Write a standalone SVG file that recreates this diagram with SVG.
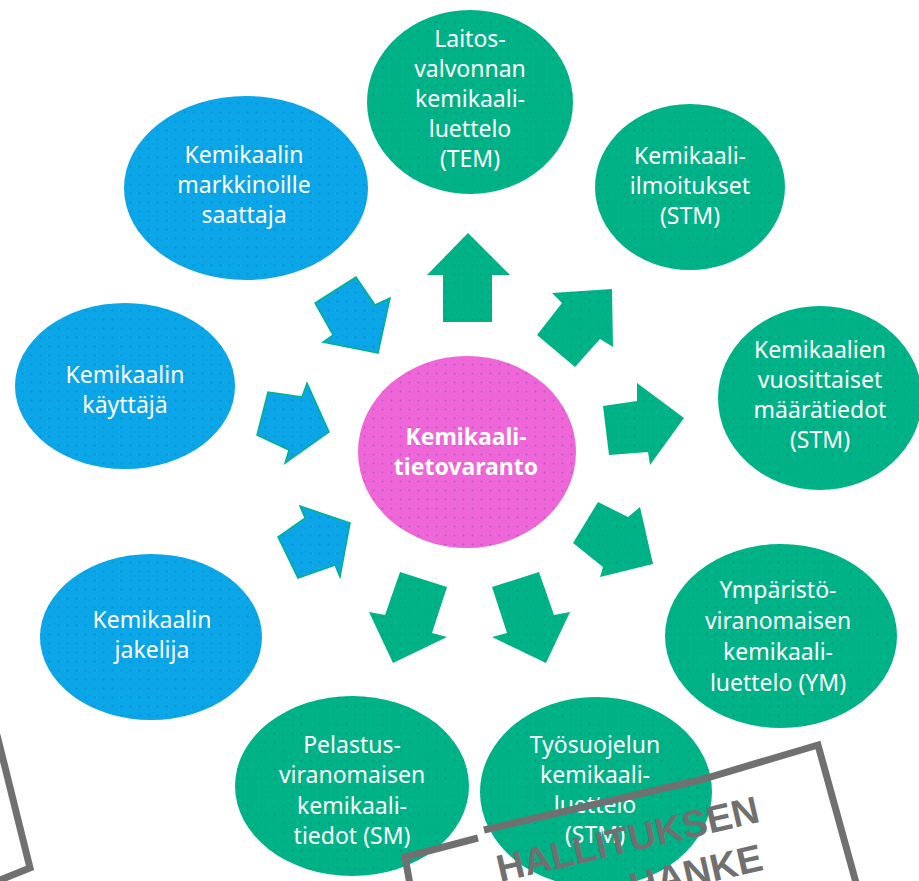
<svg xmlns="http://www.w3.org/2000/svg" width="919" height="881" viewBox="0 0 919 881">
<style>
.g{fill:#00b386}
.b{fill:#0aa6e8}
.p{fill:#ee66d8}
.d{fill:url(#dots)}
.ab{fill:#0aa6e8;stroke:#00b386;stroke-width:1.5;stroke-linejoin:miter}
.ag{fill:#00b386}
.t{font-family:"Noto Sans","Open Sans","DejaVu Sans",sans-serif;font-size:23px;fill:#ffffff;text-anchor:middle}
.tb{font-weight:bold}
.stamp{fill:none;stroke:#707070;stroke-width:7;stroke-linejoin:miter}
.st{font-family:"Liberation Sans","Arial",sans-serif;font-weight:bold;font-size:38px;fill:#707070}
</style>
<defs>
<pattern id="dots" width="9" height="9" patternUnits="userSpaceOnUse">
<circle cx="4.5" cy="4.5" r="1" fill="#1a4f8c" fill-opacity="0.3"/>
</pattern>
</defs>
<rect width="919" height="881" fill="#ffffff"/>

<g id="connectors">
<polygon class="ag" points="468,233 510,275 492,275 492,322 443,322 443,275 427,275"/>
<polygon class="ag" points="612,289 613,347 600,339 575,367 537,335 562,303 552,293"/>
<polygon class="ag" points="684,418 650,465 648,452 609,455 603,406 637,401 637,383"/>
<polygon class="ag" points="653,564 600,577 603,567 573,543 598,502 628,517 640,507"/>
<polygon class="ag" points="546,663 570,612 554,615 539,572 492,587 507,633 492,637"/>
<polygon class="ag" points="393,663 369,612 385,615 400,572 447,587 432,633 447,637"/>
<polygon class="ab" points="378,353 323,342 333,335 315,303 356,277 375,305 390,298"/>
<polygon class="ab" points="329,432 285,463 289,450 257,435 268,392 302,397 307,383"/>
<polygon class="ab" points="350,523 340,577 335,565 298,578 278,537 305,518 300,506"/>
<g class="d">
<polygon points="468,233 510,275 492,275 492,322 443,322 443,275 427,275"/>
<polygon points="612,289 613,347 600,339 575,367 537,335 562,303 552,293"/>
<polygon points="684,418 650,465 648,452 609,455 603,406 637,401 637,383"/>
<polygon points="653,564 600,577 603,567 573,543 598,502 628,517 640,507"/>
<polygon points="546,663 570,612 554,615 539,572 492,587 507,633 492,637"/>
<polygon points="393,663 369,612 385,615 400,572 447,587 432,633 447,637"/>
<polygon points="378,353 323,342 333,335 315,303 356,277 375,305 390,298"/>
<polygon points="329,432 285,463 289,450 257,435 268,392 302,397 307,383"/>
<polygon points="350,523 340,577 335,565 298,578 278,537 305,518 300,506"/>
</g>
</g>

<g id="center">
<ellipse class="p" cx="467" cy="452" rx="109" ry="96"/>
<ellipse class="d" cx="467" cy="452" rx="109" ry="96"/>
<text class="t tb" x="466" y="445">Kemikaali-</text>
<text class="t tb" x="466" y="475">tietovaranto</text>
</g>

<g id="laitos">
<ellipse class="g" cx="470" cy="102" rx="103" ry="92"/>
<ellipse class="d" cx="470" cy="102" rx="103" ry="92"/>
<text class="t" x="470" y="47">Laitos-</text>
<text class="t" x="470" y="77">valvonnan</text>
<text class="t" x="470" y="107">kemikaali-</text>
<text class="t" x="470" y="137">luettelo</text>
<text class="t" x="470" y="167">(TEM)</text>
</g>

<g id="ilmoitukset">
<ellipse class="g" cx="690" cy="187" rx="95" ry="83"/>
<ellipse class="d" cx="690" cy="187" rx="95" ry="83"/>
<text class="t" x="690" y="164">Kemikaali-</text>
<text class="t" x="690" y="194">ilmoitukset</text>
<text class="t" x="690" y="224">(STM)</text>
</g>

<g id="maaratiedot">
<ellipse class="g" cx="820" cy="398" rx="102" ry="92"/>
<ellipse class="d" cx="820" cy="398" rx="102" ry="92"/>
<text class="t" x="820" y="358">Kemikaalien</text>
<text class="t" x="820" y="388">vuosittaiset</text>
<text class="t" x="820" y="418">määrätiedot</text>
<text class="t" x="820" y="448">(STM)</text>
</g>

<g id="ymparisto">
<ellipse class="g" cx="781" cy="636" rx="116" ry="92"/>
<ellipse class="d" cx="781" cy="636" rx="116" ry="92"/>
<text class="t" x="778" y="598">Ympäristö-</text>
<text class="t" x="778" y="629">viranomaisen</text>
<text class="t" x="778" y="660">kemikaali-</text>
<text class="t" x="778" y="691">luettelo (YM)</text>
</g>

<g id="tyosuojelu">
<ellipse class="g" cx="596" cy="792" rx="116" ry="95"/>
<ellipse class="d" cx="596" cy="792" rx="116" ry="95"/>
<text class="t" x="595" y="753">Työsuojelun</text>
<text class="t" x="595" y="783">kemikaali-</text>
<text class="t" x="595" y="813">luettelo</text>
<text class="t" x="595" y="843">(STM)</text>
</g>

<g id="pelastus">
<ellipse class="g" cx="352" cy="786" rx="117" ry="90"/>
<ellipse class="d" cx="352" cy="786" rx="117" ry="90"/>
<text class="t" x="352" y="753">Pelastus-</text>
<text class="t" x="352" y="783">viranomaisen</text>
<text class="t" x="352" y="814">kemikaali-</text>
<text class="t" x="352" y="844">tiedot (SM)</text>
</g>

<g id="jakelija">
<ellipse class="b" cx="151" cy="637" rx="111" ry="83"/>
<ellipse class="d" cx="151" cy="637" rx="111" ry="83"/>
<text class="t" x="152" y="628">Kemikaalin</text>
<text class="t" x="152" y="658">jakelija</text>
</g>

<g id="kayttaja">
<ellipse class="b" cx="125" cy="386" rx="110" ry="83"/>
<ellipse class="d" cx="125" cy="386" rx="110" ry="83"/>
<text class="t" x="125" y="383">Kemikaalin</text>
<text class="t" x="125" y="413">käyttäjä</text>
</g>

<g id="markkinoille">
<ellipse class="b" cx="246" cy="188" rx="122" ry="92"/>
<ellipse class="d" cx="246" cy="188" rx="122" ry="92"/>
<text class="t" x="244" y="163">Kemikaalin</text>
<text class="t" x="244" y="193">markkinoille</text>
<text class="t" x="244" y="223">saattaja</text>
</g>

<g id="stamp">
<path class="stamp" d="M411,890 L405,857 L478,838"/>
<path class="stamp" d="M484,830 L700,780 L818,745 L858,890" stroke-width="6"/>
<path class="stamp" d="M-3,735 L30,868 L-5,882" stroke-width="6"/>
<text class="st" transform="translate(500,882) rotate(-13)">HALLITUKSEN</text>
<text class="st" transform="translate(633,900) rotate(-13)">HANKE</text>
</g>
</svg>
